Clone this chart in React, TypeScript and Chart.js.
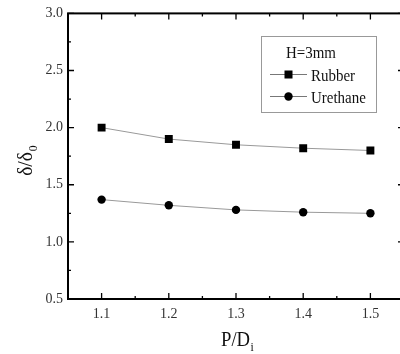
import React, { useEffect, useRef } from "react";
import { Chart, registerables } from "chart.js";

Chart.register(...registerables);

const pdRatio = [1.1, 1.2, 1.3, 1.4, 1.5];
const rubber = [2.0, 1.9, 1.85, 1.82, 1.8];
const urethane = [1.37, 1.32, 1.28, 1.26, 1.25];
const xTicks = [1.1, 1.2, 1.3, 1.4, 1.5];
const yTicks = [0.5, 1.0, 1.5, 2.0, 2.5, 3.0];
const xMinor = [1.15, 1.25, 1.35, 1.45];
const yMinor = [0.75, 1.25, 1.75, 2.25, 2.75];
const legendTitle = "H=3mm";
const seriesNames = ["Rubber", "Urethane"];

const SERIF = "'Liberation Serif', 'Times New Roman', serif";

function text(ctx: CanvasRenderingContext2D, s: string, x: number, y: number, size: number, align: CanvasTextAlign = "left", sx = 0.9) {
  ctx.save();
  ctx.font = `${size}px ${SERIF}`;
  ctx.textBaseline = "alphabetic";
  const w = ctx.measureText(s).width * sx;
  let x0 = x;
  if (align === "center") x0 = x - w / 2;
  else if (align === "right") x0 = x - w;
  ctx.translate(x0, y);
  ctx.scale(sx, 1);
  ctx.fillText(s, 0, 0);
  ctx.restore();
  return w;
}

const framePlugin = {
  id: "frame",
  afterDraw(chart: any) {
    const ctx: CanvasRenderingContext2D = chart.ctx;
    const { left, right, top, bottom } = chart.chartArea;
    const xs = chart.scales.x;
    const ys = chart.scales.y;
    ctx.save();
    ctx.strokeStyle = "#000";
    ctx.lineWidth = 2;
    ctx.strokeRect(left, top, right - left, bottom - top);
    ctx.lineWidth = 1.3;
    ctx.beginPath();
    const tick = (vals: number[], len: number) => {
      vals.forEach((v) => {
        const px = xs.getPixelForValue(v);
        ctx.moveTo(px, bottom);
        ctx.lineTo(px, bottom - len);
        ctx.moveTo(px, top);
        ctx.lineTo(px, top + len);
      });
    };
    const ytick = (vals: number[], len: number) => {
      vals.forEach((v) => {
        const py = ys.getPixelForValue(v);
        ctx.moveTo(left, py);
        ctx.lineTo(left + len, py);
        ctx.moveTo(right, py);
        ctx.lineTo(right - len, py);
      });
    };
    tick(xTicks, 6);
    tick(xMinor, 3);
    ytick(yTicks, 6);
    ytick(yMinor, 3);
    ctx.stroke();

    // axis titles
    ctx.fillStyle = "#111";
    const startX = 221;
    const w1 = text(ctx, "P/D", startX, 346, 22, "left", 0.85);
    text(ctx, "i", startX + w1 + 0.5, 351, 13, "left", 0.9);

    ctx.save();
    ctx.translate(32, 160);
    ctx.rotate(-Math.PI / 2);
    ctx.font = `22px ${SERIF}`;
    const wd = ctx.measureText("δ/δ").width * 0.88;
    text(ctx, "δ/δ", -wd / 2 - 4, 0, 22, "left", 0.88);
    text(ctx, "0", wd / 2 - 3, 5, 13, "left", 0.9);
    ctx.restore();

    // legend
    ctx.strokeStyle = "#999";
    ctx.lineWidth = 1;
    ctx.strokeRect(261.5, 36.5, 115, 76);
    ctx.fillStyle = "#111";
    text(ctx, legendTitle, 311, 58, 17, "center", 0.88);
    const rows = [74, 96];
    rows.forEach((ry, i) => {
      ctx.strokeStyle = "#777";
      ctx.lineWidth = 1;
      ctx.beginPath();
      ctx.moveTo(270, ry + 0.5);
      ctx.lineTo(307, ry + 0.5);
      ctx.stroke();
      ctx.fillStyle = "#000";
      if (i === 0) {
        ctx.fillRect(284.5, ry - 3.5, 8, 8);
      } else {
        ctx.beginPath();
        ctx.arc(288.5, ry + 0.5, 4.2, 0, Math.PI * 2);
        ctx.fill();
      }
      ctx.fillStyle = "#111";
      text(ctx, seriesNames[i], 311, ry + 6.5, 17, "left", 0.88);
    });
    ctx.restore();
  },
};

export default function App() {
  const ref = useRef<HTMLCanvasElement>(null);
  useEffect(() => {
    if (!ref.current) return;
    const chart = new Chart(ref.current, {
      type: "line",
      data: {
        datasets: [
          {
            label: seriesNames[0],
            data: pdRatio.map((x, i) => ({ x, y: rubber[i] })),
            borderColor: "#999",
            borderWidth: 1,
            pointStyle: "rect",
            pointRadius: 5.6,
            pointBackgroundColor: "#000",
            pointBorderWidth: 0,
            tension: 0,
          },
          {
            label: seriesNames[1],
            data: pdRatio.map((x, i) => ({ x, y: urethane[i] })),
            borderColor: "#999",
            borderWidth: 1,
            pointStyle: "circle",
            pointRadius: 4.2,
            pointBackgroundColor: "#000",
            pointBorderWidth: 0,
            tension: 0,
          },
        ],
      },
      options: {
        animation: false,
        responsive: false,
        layout: { padding: { left: 0, top: 11, right: 16, bottom: 0 } },
        plugins: { legend: { display: false }, tooltip: { enabled: false } },
        scales: {
          x: {
            type: "linear",
            min: 1.05,
            max: 1.55,
            grid: { display: false, drawTicks: false },
            border: { display: false },
            afterBuildTicks: (s: any) => {
              s.ticks = xTicks.map((v) => ({ value: v }));
            },
            afterFit: (s: any) => {
              s.height = 55;
            },
            ticks: {
              padding: 7,
              color: "#333",
              font: { family: SERIF, size: 14 },
              callback: (v: any) => Number(v).toFixed(1),
              maxRotation: 0,
            },
          },
          y: {
            type: "linear",
            min: 0.5,
            max: 3.0,
            grid: { display: false, drawTicks: false },
            border: { display: false },
            afterBuildTicks: (s: any) => {
              s.ticks = yTicks.map((v) => ({ value: v }));
            },
            afterFit: (s: any) => {
              s.width = 68;
            },
            ticks: {
              padding: 5,
              color: "#333",
              font: { family: SERIF, size: 14 },
              callback: (v: any) => Number(v).toFixed(1),
            },
          },
        },
      },
      plugins: [framePlugin],
    } as any);
    return () => chart.destroy();
  }, []);
  return (
    <div style={{ position: "fixed", left: 0, top: 0, width: 400, height: 354, overflow: "hidden", background: "#fff" }}>
      <canvas ref={ref} width={420} height={354} style={{ display: "block" }} />
    </div>
  );
}
